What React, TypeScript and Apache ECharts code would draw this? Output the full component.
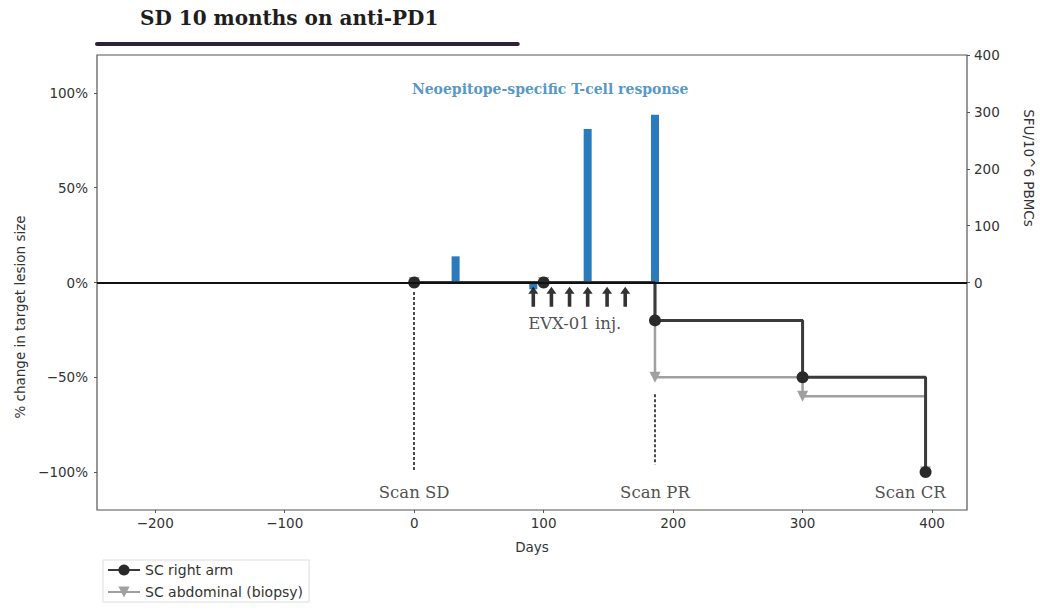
import React, { useEffect, useRef } from 'react';
import * as echarts from 'echarts';

// Axis ranges / ticks
const X_MIN = -245;
const X_MAX = 427;
const xTicks = [-200, -100, 0, 100, 200, 300, 400];
const pctTicks = [-100, -50, 0, 50, 100];
const sfuTicks = [0, 100, 200, 300, 400];

// Lesion measurements (% change)
const rightArmDays = [0, 100, 186, 300, 395];
const rightArmPct = [0, 0, -20, -50, -100];
const abdominalDays = [0, 100, 186, 300, 395];
const abdominalPct = [0, 0, -50, -60, -100];

// Neoepitope-specific T-cell response (SFU/10^6 PBMCs)
const tcellDays = [32, 92, 134, 186];
const tcellSfu = [46, -12, 270, 295];

// EVX-01 injections
const injectionDays = [92, 106, 120, 134, 149, 163];
const ARROW_Y = -7.5;

// Anti-PD1 period end
const antiPd1EndDay = 80;

// Scan annotations
const scanNames = ['Scan SD', 'Scan PR', 'Scan CR'];
const scanLabelDays = [0, 186, 383];
const SCAN_LABEL_Y = -111;
const scanLineDays = [0, 186];
const scanLineFrom = [-5, -59];
const scanLineTo = [-100, -96];

const SERIF = '"DejaVu Serif", serif';
const SANS = '"DejaVu Sans", sans-serif';
const BLUE = '#2a7bbb';

export default function App() {
  const ref = useRef<HTMLDivElement>(null);
  useEffect(() => {
    const chart = echarts.init(ref.current!, null, { renderer: 'svg' });
    const axisTick = { show: true, length: 3, lineStyle: { color: '#555', width: 1 } };
    const labelStyle = { fontFamily: SANS, fontSize: 13.5, color: '#333' };
    const option: any = {
      animation: false,
      backgroundColor: '#fff',
      grid: { left: 97, right: 73, top: 55, bottom: 100, show: true, borderColor: '#555', borderWidth: 1.2, backgroundColor: 'transparent' },
      legend: {
        data: ['SC right arm', 'SC abdominal (biopsy)'],
        orient: 'vertical',
        left: 103,
        top: 560,
        itemGap: 8,
        itemWidth: 32,
        itemHeight: 14,
        padding: [3, 6, 3, 4],
        borderColor: '#ddd',
        borderWidth: 1,
        textStyle: { fontFamily: SANS, fontSize: 14, color: '#333' },
      },
      xAxis: {
        type: 'value',
        min: X_MIN,
        max: X_MAX,
        name: 'Days',
        nameLocation: 'middle',
        nameGap: 30,
        nameTextStyle: { fontFamily: SANS, fontSize: 13.5, color: '#333' },
        axisLine: { show: false, onZero: false },
        splitLine: { show: false },
        axisTick: { ...axisTick, customValues: xTicks },
        axisLabel: {
          ...labelStyle,
          customValues: xTicks,
          margin: 6,
          formatter: (v: number) => String(v).replace('-', '\u2212'),
        },
      },
      yAxis: [
        {
          type: 'value',
          min: -120,
          max: 120,
          axisLine: { show: false, onZero: false },
          splitLine: { show: false },
          axisTick: { ...axisTick, customValues: pctTicks },
          axisLabel: {
            ...labelStyle,
            customValues: pctTicks,
            margin: 9,
            formatter: (v: number) => String(v).replace('-', '\u2212') + '%',
          },
        },
        {
          type: 'value',
          position: 'right',
          min: -400,
          max: 400,
          axisLine: { show: false, onZero: false },
          splitLine: { show: false },
          axisTick: { ...axisTick, customValues: sfuTicks },
          axisLabel: { ...labelStyle, customValues: sfuTicks, margin: 7 },
        },
      ],
      series: [
        {
          name: 'T-cell response',
          type: 'bar',
          yAxisIndex: 1,
          barWidth: 8,
          itemStyle: { color: BLUE },
          data: tcellDays.map((d, i) => [d, tcellSfu[i]]),
          z: 1,
        },
        {
          name: 'SC abdominal (biopsy)',
          type: 'line',
          step: 'end',
          data: abdominalDays.map((d, i) => [d, abdominalPct[i]]),
          symbol: 'triangle',
          symbolRotate: 180,
          symbolSize: 11,
          lineStyle: { color: '#a0a0a0', width: 2.5 },
          itemStyle: { color: '#a0a0a0' },
          z: 3,
        },
        {
          name: 'SC right arm',
          type: 'line',
          step: 'end',
          data: rightArmDays.map((d, i) => [d, rightArmPct[i]]),
          symbol: 'circle',
          symbolSize: 12,
          lineStyle: { color: '#3a3a3a', width: 3 },
          itemStyle: { color: '#2a2a2a' },
          z: 4,
          markLine: {
            silent: true,
            symbol: 'none',
            label: { show: false },
            data: [
              [{ coord: [X_MIN, 0] }, { coord: [X_MAX, 0], lineStyle: { color: '#111', width: 2, type: 'solid' } }],
              ...scanLineDays.map((d, i) => [
                { coord: [d, scanLineFrom[i]] },
                { coord: [d, scanLineTo[i]], lineStyle: { color: '#111', width: 1.5, type: [3, 2] } },
              ]),
            ],
          },
        },
        {
          name: 'injections',
          type: 'scatter',
          data: injectionDays.map((d) => [d, ARROW_Y]),
          symbol: 'path://M5,0 L10,7 L6.8,7 L6.8,20 L3.2,20 L3.2,7 L0,7 Z',
          symbolSize: [10, 20],
          itemStyle: { color: '#000' },
          z: 5,
        },
        {
          name: 'annotations',
          type: 'scatter',
          symbolSize: 0,
          silent: true,
          z: 6,
          data: [
            ...scanNames.map((n, i) => ({ name: n, value: [scanLabelDays[i], SCAN_LABEL_Y] })),
            { name: 'EVX-01 inj.', value: [124, -21.5] },
            {
              name: 'Neoepitope-specific T-cell response',
              value: [105, 102],
              label: { color: BLUE, fontWeight: 'bold', fontSize: 14 },
            },
          ],
          label: {
            show: true,
            position: 'inside',
            formatter: (p: any) => p.name,
            fontFamily: SERIF,
            fontSize: 16.5,
            color: '#222',
          },
        },
      ],
      graphic: [
        {
          id: 'title',
          type: 'text',
          left: 140,
          top: 8,
          style: { text: 'SD 10 months on anti-PD1', fontFamily: SERIF, fontWeight: 'bold', fontSize: 20, fill: '#1e1e1e' },
        },
        {
          id: 'ylabel',
          type: 'text',
          x: 20,
          y: 317,
          rotation: Math.PI / 2,
          style: { text: '% change in target lesion size', fontFamily: SANS, fontSize: 13.5, fill: '#333', align: 'center', verticalAlign: 'middle' },
        },
        {
          id: 'y2label',
          type: 'text',
          x: 1029,
          y: 168,
          rotation: -Math.PI / 2,
          style: { text: 'SFU/10^6 PBMCs', fontFamily: SANS, fontSize: 13.5, fill: '#333', align: 'center', verticalAlign: 'middle' },
        },
      ],
    };
    chart.setOption(option);
    const px0 = chart.convertToPixel({ xAxisIndex: 0 }, X_MIN) as number;
    const px1 = chart.convertToPixel({ xAxisIndex: 0 }, antiPd1EndDay) as number;
    chart.setOption({
      graphic: [
        {
          id: 'pd1bar',
          type: 'line',
          shape: { x1: px0, y1: 44, x2: px1, y2: 44 },
          style: { stroke: '#2e2236', lineWidth: 4, lineCap: 'round' },
        },
      ],
    });
    return () => chart.dispose();
  }, []);
  return <div ref={ref} style={{ position: 'absolute', left: 0, top: 0, width: 1040, height: 610 }} />;
}
